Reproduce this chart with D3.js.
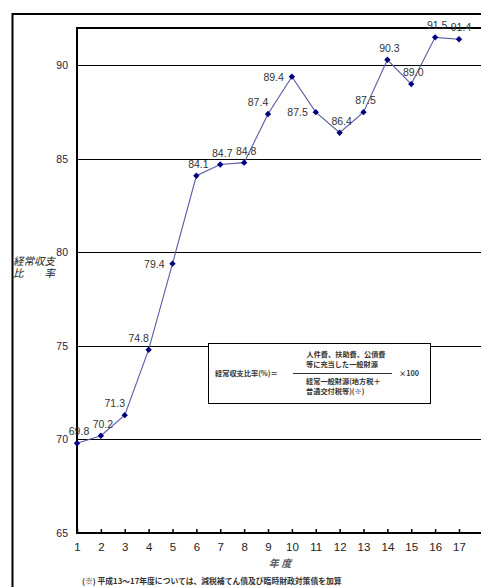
<!DOCTYPE html>
<html>
<head>
<meta charset="utf-8">
<script src="https://cdn.jsdelivr.net/npm/d3@7"></script>
<style>
  html, body { margin: 0; padding: 0; background: #fff; }
  svg { display: block; }
  text { font-family: "Liberation Sans", Arial, sans-serif; }
  .jp { font-family: "Noto Sans CJK JP", sans-serif; }
  .jp-tight { font-family: "Liberation Sans", "Noto Sans CJK JP", sans-serif; }
</style>
</head>
<body>
<svg id="chart" width="481" height="587"></svg>
<script>
// 経常収支比率の推移（年度 1〜17）
const years = [1, 2, 3, 4, 5, 6, 7, 8, 9, 10, 11, 12, 13, 14, 15, 16, 17];
const ratios = [69.8, 70.2, 71.3, 74.8, 79.4, 84.1, 84.7, 84.8, 87.4, 89.4, 87.5, 86.4, 87.5, 90.3, 89.0, 91.5, 91.4];
const yTicks = [65, 70, 75, 80, 85, 90];
// where each value label sits relative to its marker
const labelSide = ["above", "above", "upleft", "upleft", "left", "above", "above", "above", "upleft",
                   "left", "left", "above", "above", "above", "above", "above", "above"];

const svg = d3.select("#chart");

const plot = { left: 77, top: 28, right: 500, bottom: 533 };
const x = d3.scaleLinear().domain([1, 17]).range([77, 459]);
const y = d3.scaleLinear().domain([65, 92]).range([plot.bottom, plot.top]);

// outer frame
svg.append("rect")
  .attr("x", 12.5).attr("y", 14).attr("width", 520).attr("height", 620)
  .attr("fill", "none").attr("stroke", "#000").attr("stroke-width", 2);

// horizontal grid lines
svg.append("g").selectAll("line")
  .data(yTicks.filter(d => d > 65))
  .join("line")
  .attr("x1", plot.left).attr("x2", plot.right)
  .attr("y1", d => Math.round(y(d)) + 0.5).attr("y2", d => Math.round(y(d)) + 0.5)
  .attr("stroke", "#000").attr("stroke-width", 1);

// plot frame
svg.append("rect")
  .attr("x", plot.left).attr("y", plot.top)
  .attr("width", plot.right - plot.left).attr("height", plot.bottom - plot.top)
  .attr("fill", "none").attr("stroke", "#000").attr("stroke-width", 2);

// y axis labels
const yAxis = d3.axisLeft(y).tickValues(yTicks).tickSize(0).tickPadding(9);
svg.append("g")
  .attr("transform", `translate(${plot.left},0)`)
  .call(yAxis)
  .call(g => g.select(".domain").remove())
  .call(g => g.selectAll("text")
    .attr("font-family", "Liberation Sans, Arial, sans-serif")
    .attr("font-size", 10.5).attr("fill", "#1f2240"));

// x axis
const xAxis = d3.axisBottom(x).tickValues(years).tickSize(-4).tickPadding(10).tickFormat(d3.format("d"));
svg.append("g")
  .attr("transform", `translate(0,${plot.bottom})`)
  .call(xAxis)
  .call(g => g.select(".domain").remove())
  .call(g => g.selectAll("line").attr("stroke", "#000").attr("stroke-width", 1.5))
  .call(g => g.selectAll("text")
    .attr("font-family", "Liberation Sans, Arial, sans-serif")
    .attr("font-size", 11.5).attr("fill", "#222"));

// axis titles
svg.append("text").attr("class", "jp")
  .attr("x", 280).attr("y", 567).attr("text-anchor", "middle")
  .attr("font-size", 10).attr("font-style", "italic").attr("font-weight", "bold")
  .attr("fill", "#555").text("年 度");

const yTitleLines = ["経常収支", "比　　率"];
svg.append("g").selectAll("text")
  .data(yTitleLines)
  .join("text").attr("class", "jp-tight")
  .attr("x", 13).attr("y", (d, i) => 265 + i * 12)
  .attr("font-size", 10.5).attr("font-style", "italic").attr("fill", "#222")
  .attr("xml:space", "preserve")
  .text(d => d);

// footnote
svg.append("text").attr("class", "jp")
  .attr("x", 82).attr("y", 584)
  .attr("font-size", 7.8).attr("font-weight", "bold").attr("fill", "#333")
  .text("(※) 平成13～17年度については、減税補てん債及び臨時財政対策債を加算");

// formula box
const fb = svg.append("g").attr("class", "formula");
fb.append("rect").attr("x", 208.5).attr("y", 343.5).attr("width", 222).attr("height", 60)
  .attr("fill", "#fff").attr("stroke", "#000").attr("stroke-width", 1);
const ft = (tx, ty, s, anchor) => fb.append("text").attr("class", "jp")
  .attr("x", tx).attr("y", ty).attr("text-anchor", anchor || "start")
  .attr("font-size", 7.2).attr("font-weight", "bold").attr("fill", "#333").text(s);
ft(215, 376, "経常収支比率(%)＝");
ft(346, 357, "人件費、扶助費、公債費", "middle");
ft(342, 367, "等に充当した一般財源", "middle");
fb.append("line").attr("x1", 293).attr("x2", 392).attr("y1", 373.5).attr("y2", 373.5)
  .attr("stroke", "#333").attr("stroke-width", 1);
ft(306, 384, "経常一般財源(地方税＋");
ft(306, 394, "普通交付税等)(※)");
ft(399, 376, "×100");

// line
const pts = years.map((yr, i) => ({ yr, v: ratios[i], side: labelSide[i] }));
svg.append("path")
  .datum(pts)
  .attr("fill", "none").attr("stroke", "#5a5aa6").attr("stroke-width", 1.1)
  .attr("d", d3.line().x(d => x(d.yr)).y(d => y(d.v)));

// diamond markers
svg.append("g").selectAll("path")
  .data(pts)
  .join("path")
  .attr("transform", d => `translate(${x(d.yr)},${y(d.v)})`)
  .attr("d", "M0,-3.2L3.2,0L0,3.2L-3.2,0Z")
  .attr("fill", "#000080");

// value labels
svg.append("g").selectAll("text")
  .data(pts)
  .join("text")
  .attr("font-size", 10.5).attr("fill", "#333")
  .attr("text-anchor", d => d.side === "left" ? "end" : "middle")
  .attr("x", d => x(d.yr) + (d.side === "above" ? 2 : d.side === "upleft" ? -10 : -8))
  .attr("y", d => y(d.v) + (d.side === "left" ? 4 : -8))
  .text(d => d3.format(".1f")(d.v));
</script>
</body>
</html>
